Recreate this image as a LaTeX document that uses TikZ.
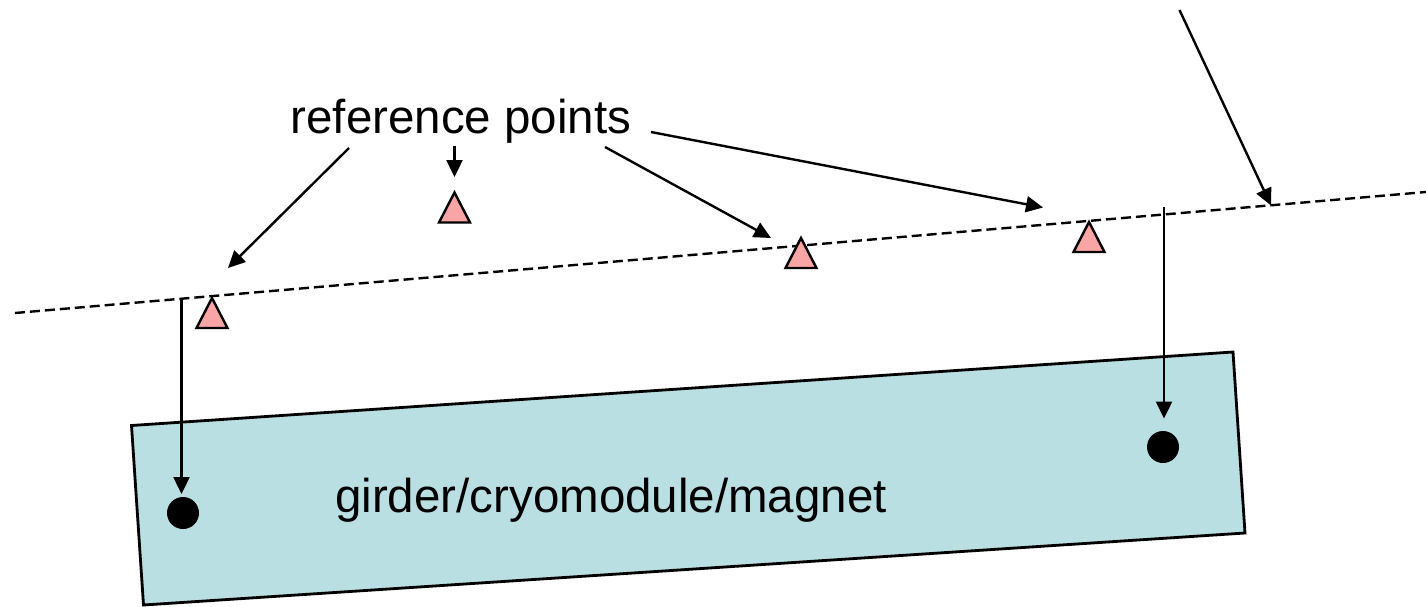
\documentclass[tikz,border=0pt]{standalone}
\usepackage{fontspec}
\setmainfont{Liberation Sans}
\usetikzlibrary{arrows.meta}
\definecolor{markerpink}{RGB}{250,165,165}
\definecolor{girderfill}{RGB}{185,223,227}
\begin{document}
\begin{tikzpicture}[x=1pt,y=-1pt,
  ptr/.style={line width=2.4pt,-{Triangle[length=17pt,width=16pt]}},
  label/.style={font=\fontsize{47.5}{57}\selectfont, inner sep=0pt, anchor=base},
  dot/.style={circle, fill=black, minimum size=32pt, inner sep=0pt},
  refmark/.pic={\draw[line width=2.4pt, fill=markerpink, line join=miter]
      (-15.5,15) -- (0,-15) -- (15.5,15) -- cycle;}]
  \useasboundingbox (0,0) rectangle (1426,607);

  % girder body, slightly tilted
  \draw[line width=2.8pt, fill=girderfill, line join=miter]
    (131.5,425.5) -- (1233,352) -- (1245,533) -- (143.5,605) -- cycle;
  \node[label] (girder) at (611,512) {girder/cryomodule/magnet};

  % fiducials on the girder
  \node[dot] (dotL) at (183,513) {};
  \node[dot] (dotR) at (1163,447) {};

  % best-fit line through the reference points
  \coordinate (lineW) at (15,313);
  \coordinate (lineE) at (1426,192);
  \draw[line width=2.4pt, dash pattern=on 10pt off 5pt] (lineW) -- (lineE);

  % reference points
  \pic at (212,313) {refmark};
  \pic at (454.5,207.5) {refmark};
  \pic at (801,253) {refmark};
  \pic at (1089,237) {refmark};

  \node[label] (refs) at (461,133) {reference points};

  % pointers from the label
  \coordinate (r1s) at (349,148);   \coordinate (r1e) at (228,268);
  \coordinate (r2s) at (454.5,146); \coordinate (r2e) at (454.5,177);
  \coordinate (r3s) at (605,147);   \coordinate (r3e) at (771,238);
  \coordinate (r4s) at (651,132);   \coordinate (r4e) at (1043,207.5);
  \draw[ptr] (r1s) -- (r1e);
  \draw[ptr] (r2s) -- (r2e);
  \draw[ptr] (r3s) -- (r3e);
  \draw[ptr] (r4s) -- (r4e);

  % pointer onto the fitted line
  \coordinate (fitS) at (1179.5,10);
  \coordinate (fitE) at (1271,205.5);
  \draw[ptr] (fitS) -- (fitE);

  % projections from the line onto the girder fiducials
  \coordinate (projL) at (181.5,298);
  \coordinate (projR) at (1164,207);
  \draw[ptr] (projL) -- (181.5,494);
  \draw[ptr] (projR) -- (1164,418.5);
\end{tikzpicture}
\end{document}
